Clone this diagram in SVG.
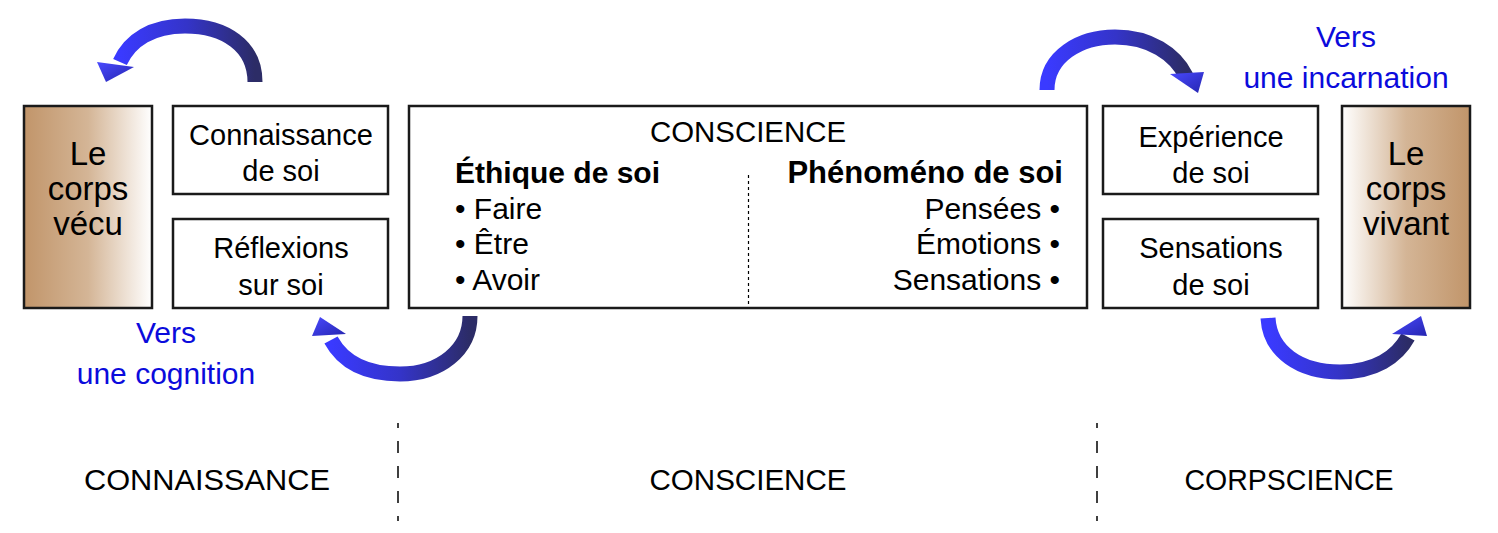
<svg xmlns="http://www.w3.org/2000/svg" width="1498" height="533" viewBox="0 0 1498 533">
<defs>
<style>
.box{fill:#fff;stroke:#1a1a1a;stroke-width:2.5}
.t{font-family:"Liberation Sans",Arial,sans-serif;fill:#000;font-size:29px;text-anchor:middle}
.big{font-size:33px}
.b{font-weight:bold;font-size:30px}
.blue{fill:#0b0bdc;font-size:30px}
.arr{fill:none;stroke:url(#ag);stroke-width:15}
.head{fill:url(#hg)}
</style>
<linearGradient id="brL" x1="0" y1="0" x2="1" y2="0">
<stop offset="0" stop-color="#c1956a"/><stop offset="0.5" stop-color="#d4b596"/><stop offset="1" stop-color="#ffffff"/>
</linearGradient>
<linearGradient id="brR" x1="0" y1="0" x2="1" y2="0">
<stop offset="0" stop-color="#ffffff"/><stop offset="0.5" stop-color="#d4b596"/><stop offset="1" stop-color="#c1956a"/>
</linearGradient>
<linearGradient id="ag" x1="0" y1="0" x2="1" y2="0">
<stop offset="0" stop-color="#3a3aff"/><stop offset="0.5" stop-color="#3434c8"/><stop offset="1" stop-color="#2c2c66"/>
</linearGradient>
<linearGradient id="hg" x1="0" y1="0" x2="1" y2="1">
<stop offset="0" stop-color="#4a4aff"/><stop offset="1" stop-color="#2525b0"/>
</linearGradient>
</defs>

<g id="connectors">
<path class="arr" d="M255 82 C255 46 225 26 185 26 C152 26 130 40 120 62"/>
<polygon class="head" points="97,62 134,67 106,82"/>
<path class="arr" d="M470 316 C470 350 440 374 400 374 C366 374 343 362 331 340"/>
<polygon class="head" points="312,336 320,317 346,334"/>
<path class="arr" d="M1047 90 C1047 56 1080 37 1115 37 C1150 37 1175 54 1186 76"/>
<polygon class="head" points="1170,74 1204,72 1198,93"/>
<path class="arr" d="M1268 318 C1270 352 1300 372 1340 372 C1375 372 1397 357 1408 337"/>
<polygon class="head" points="1392,334 1427,336 1421,316"/>
<line x1="398" y1="423" x2="398" y2="521" stroke="#000" stroke-width="1.5" stroke-dasharray="12,13" stroke-dashoffset="7"/>
<line x1="1097" y1="423" x2="1097" y2="521" stroke="#000" stroke-width="1.5" stroke-dasharray="12,13" stroke-dashoffset="7"/>
</g>

<g id="corps-vecu">
<rect x="24" y="106" width="128" height="202" fill="url(#brL)" stroke="#1a1a1a" stroke-width="2.5"/>
<text class="t big" x="88" y="165">Le</text>
<text class="t big" x="88" y="200">corps</text>
<text class="t big" x="88" y="235">vécu</text>
</g>

<g id="connaissance-de-soi">
<rect class="box" x="173" y="106" width="215" height="88"/>
<text class="t" x="281" y="145">Connaissance</text>
<text class="t" x="281" y="181">de soi</text>
</g>

<g id="reflexions-sur-soi">
<rect class="box" x="173" y="219" width="215" height="89"/>
<text class="t" x="281" y="258">Réflexions</text>
<text class="t" x="281" y="295">sur soi</text>
</g>

<g id="conscience">
<rect class="box" x="409" y="106" width="678" height="202"/>
<line x1="748.5" y1="175" x2="748.5" y2="306" stroke="#000" stroke-width="1.2" stroke-dasharray="3,3"/>
<text class="t" x="748" y="142" font-size="29" textLength="196" lengthAdjust="spacingAndGlyphs">CONSCIENCE</text>
<text class="t b" x="455" y="183" style="text-anchor:start">Éthique de soi</text>
<text class="t" x="455" y="219" style="text-anchor:start;font-size:30px">• Faire</text>
<text class="t" x="455" y="254" style="text-anchor:start;font-size:30px">• Être</text>
<text class="t" x="455" y="290" style="text-anchor:start;font-size:30px">• Avoir</text>
<text class="t b" x="1063" y="183" style="text-anchor:end;font-size:31px">Phénoméno de soi</text>
<text class="t" x="1060" y="219" style="text-anchor:end;font-size:30px">Pensées •</text>
<text class="t" x="1060" y="254" style="text-anchor:end;font-size:30px">Émotions •</text>
<text class="t" x="1060" y="290" style="text-anchor:end;font-size:30px">Sensations •</text>
</g>

<g id="experience-de-soi">
<rect class="box" x="1103" y="106" width="215" height="88"/>
<text class="t" x="1211" y="147">Expérience</text>
<text class="t" x="1211" y="183">de soi</text>
</g>

<g id="sensations-de-soi">
<rect class="box" x="1103" y="219" width="215" height="89"/>
<text class="t" x="1211" y="258">Sensations</text>
<text class="t" x="1211" y="295">de soi</text>
</g>

<g id="corps-vivant">
<rect x="1342" y="106" width="128" height="202" fill="url(#brR)" stroke="#1a1a1a" stroke-width="2.5"/>
<text class="t big" x="1406" y="165">Le</text>
<text class="t big" x="1406" y="200">corps</text>
<text class="t big" x="1406" y="235">vivant</text>
</g>

<g id="labels">
<text class="t blue" x="166" y="343">Vers</text>
<text class="t blue" x="166" y="384">une cognition</text>
<text class="t blue" x="1346" y="47">Vers</text>
<text class="t blue" x="1346" y="88">une incarnation</text>
<text class="t" x="207" y="490" font-size="29" textLength="246" lengthAdjust="spacingAndGlyphs">CONNAISSANCE</text>
<text class="t" x="748" y="490" font-size="29" textLength="197" lengthAdjust="spacingAndGlyphs">CONSCIENCE</text>
<text class="t" x="1289" y="490" font-size="29" textLength="209" lengthAdjust="spacingAndGlyphs">CORPSCIENCE</text>
</g>
</svg>
